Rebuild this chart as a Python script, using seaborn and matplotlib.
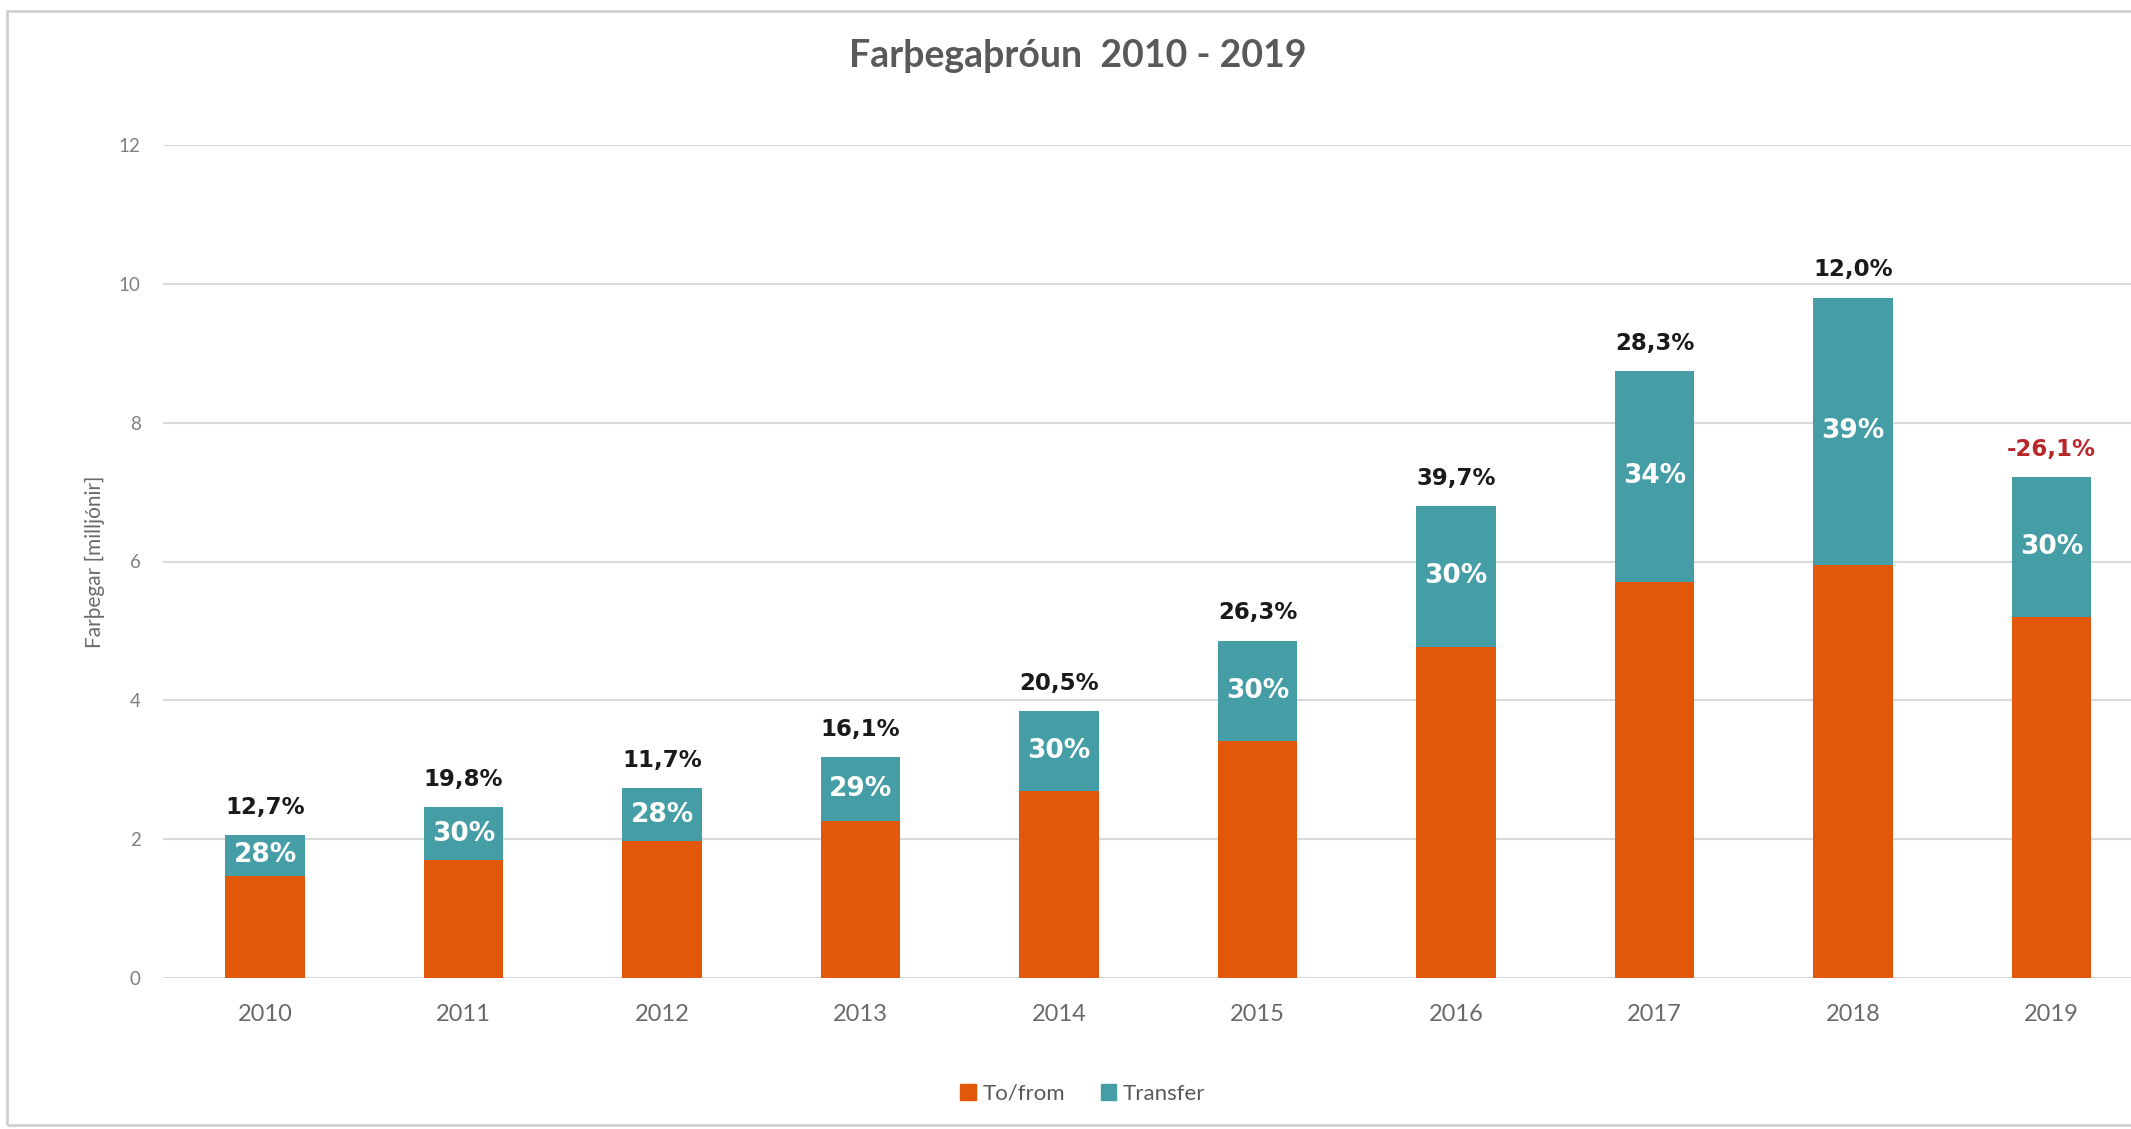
import matplotlib
matplotlib.use("Agg")
import matplotlib.pyplot as plt
import pandas as pd
import seaborn as sns
from matplotlib.patches import Patch, Rectangle

# values (millions of passengers)
YEARS = ["2010", "2011", "2012", "2013", "2014", "2015", "2016", "2017", "2018", "2019"]
TO_FROM = [1.47, 1.70, 1.97, 2.26, 2.70, 3.41, 4.77, 5.71, 5.95, 5.20]
TRANSFER = [0.59, 0.76, 0.77, 0.92, 1.14, 1.45, 2.03, 3.03, 3.85, 2.02]
TRANSFER_SHARE = ["28%", "30%", "28%", "29%", "30%", "30%", "30%", "34%", "39%", "30%"]
GROWTH = ["12,7%", "19,8%", "11,7%", "16,1%", "20,5%", "26,3%", "39,7%", "28,3%", "12,0%", "-26,1%"]

ORANGE = "#e2570a"
TEAL = "#459ea6"
GRID = "#d9d9d9"
TEXT = "#595959"

sns.set_theme(style="white")
plt.rcParams["font.family"] = ["Lato", "DejaVu Sans"]

df = pd.DataFrame({"year": YEARS, "to_from": TO_FROM, "transfer": TRANSFER})
df["total"] = df["to_from"] + df["transfer"]

fig = plt.figure(figsize=(21.31, 11.29), dpi=100)
ax = fig.add_axes([163 / 2131, 151 / 1129, 1985 / 2131, 833 / 1129])

sns.barplot(data=df, x="year", y="total", color=TEAL, saturation=1, width=0.4,
            linewidth=0, ax=ax)
sns.barplot(data=df, x="year", y="to_from", color=ORANGE, saturation=1, width=0.4,
            linewidth=0, ax=ax)

ax.set_ylim(0, 12)
ax.set_xlim(-0.514, 9.486)
ax.set_yticks(range(0, 13, 2))
ax.grid(axis="y", color=GRID, linewidth=1.5)
ax.set_axisbelow(True)
sns.despine(ax=ax, left=True, bottom=True)
ax.tick_params(axis="both", length=0)
ax.tick_params(axis="x", labelsize=17, labelcolor="#6a6a6a", pad=19)
ax.tick_params(axis="y", labelsize=13.5, labelcolor="#7f7f7f", pad=16)
ax.set_xlabel("")
ax.set_ylabel("Farþegar [milljónir]", fontsize=15, color="#6a6a6a")
ax.yaxis.set_label_coords(-0.029, 0.5)

for i, row in df.iterrows():
    ax.text(i, row["to_from"] + row["transfer"] / 2, TRANSFER_SHARE[i],
            ha="center", va="center", color="white", fontsize=19,
            fontweight="bold", family="DejaVu Sans")
    color = "#b8282b" if GROWTH[i].startswith("-") else "#1a1a1a"
    ax.annotate(GROWTH[i], (i, row["total"]), xytext=(0, 20),
                textcoords="offset points", ha="center", va="center",
                color=color, fontsize=16.5, fontweight="bold", family="DejaVu Sans")

fig.suptitle("Farþegaþróun  2010 - 2019", x=1078 / 2131, y=1 - 56 / 1129,
             va="center", fontsize=27, fontweight="bold", color=TEXT)

handles = [Patch(color=ORANGE, label="To/from"), Patch(color=TEAL, label="Transfer")]
fig.legend(handles=handles, loc="center", bbox_to_anchor=(1083 / 2131, 1 - 1094 / 1129),
           ncol=2, frameon=False, fontsize=16, labelcolor=TEXT,
           handlelength=0.7, handleheight=0.7, handletextpad=0.3, columnspacing=1.6)

# light chart-area border, as in the spreadsheet screenshot
fig.patches.append(Rectangle((7 / 2131, 4 / 1129), 1.0, 1 - 15 / 1129,
                             transform=fig.transFigure, fill=False,
                             edgecolor="#d0d0d0", linewidth=2))

fig.savefig("out.png", dpi=100)
